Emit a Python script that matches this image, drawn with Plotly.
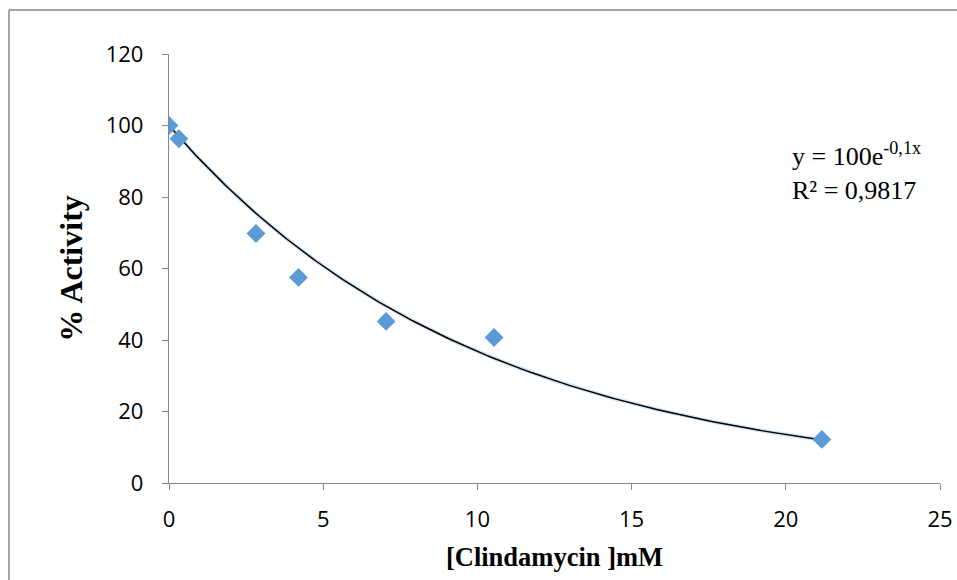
import numpy as np
import plotly.graph_objects as go

# Measured points
conc_mM = [0.0, 0.32, 2.82, 4.2, 7.04, 10.54, 21.17]
activity_pct = [100.0, 96.3, 69.8, 57.5, 45.2, 40.7, 12.2]

# Exponential trendline y = A * exp(k x)
fit_A = 100.0
fit_k = -0.1
fit_r2 = "0,9817"

x_tick_vals = [0, 5, 10, 15, 20, 25]
y_tick_vals = [0, 20, 40, 60, 80, 100, 120]

x_fit = np.linspace(min(conc_mM), max(conc_mM), 200)
y_fit = fit_A * np.exp(fit_k * x_fit)

axis_grey = "#868686"
marker_blue = "#5B9BD5"

fig = go.Figure()

# soft halo under the trendline
fig.add_trace(go.Scatter(
    x=x_fit, y=y_fit, mode="lines",
    line=dict(color="rgba(91,155,213,0.28)", width=4),
    hoverinfo="skip", showlegend=False,
))
fig.add_trace(go.Scatter(
    x=x_fit, y=y_fit, mode="lines",
    line=dict(color="#000000", width=1.5),
    showlegend=False,
))
fig.add_trace(go.Scatter(
    x=conc_mM, y=activity_pct, mode="markers",
    marker=dict(symbol="diamond", size=14.5, color=marker_blue),
    showlegend=False,
))

tick_font = dict(family="Open Sans, Noto Sans, sans-serif", size=22, color="#000000")
serif = "Liberation Serif, Times New Roman, serif"

fig.update_xaxes(
    range=[0, 25], tickmode="array", tickvals=x_tick_vals,
    showline=True, linecolor=axis_grey, linewidth=1.3,
    ticks="outside", ticklen=6, tickcolor=axis_grey, tickwidth=1.3,
    showgrid=False, zeroline=False, tickfont=tick_font,
    ticklabelstandoff=10, automargin=False,
    title=dict(text="<b>[Clindamycin ]mM</b>",
               font=dict(family=serif, size=26.5, color="#000000"), standoff=15),
)
fig.update_yaxes(
    range=[0, 120], tickmode="array", tickvals=y_tick_vals,
    showline=True, linecolor=axis_grey, linewidth=1.3,
    ticks="outside", ticklen=6, tickcolor=axis_grey, tickwidth=1.3,
    showgrid=False, zeroline=False, tickfont=tick_font,
    ticklabelstandoff=14, automargin=False,
    title=dict(text="<b>% Activity</b>",
               font=dict(family=serif, size=32, color="#000000"), standoff=13),
)

fig.add_annotation(
    x=20.15, y=97, xref="x", yref="y",
    xanchor="left", yanchor="top", align="left", showarrow=False,
    text="y = 100e<sup>-0,1x</sup><br>R² = 0,9817",
    font=dict(family=serif, size=26, color="#000000"),
)

# chart frame (left and top edges)
plot_w = 940 - 169
plot_h = 483 - 54
fx0 = (9 - 169) / plot_w
fy_top = (483 - 10) / plot_h
fy_bot = (483 - 585) / plot_h
fx1 = (960 - 169) / plot_w
fig.add_shape(type="line", xref="paper", yref="paper",
              x0=fx0, x1=fx0, y0=fy_bot, y1=fy_top,
              line=dict(color=axis_grey, width=1.5))
fig.add_shape(type="line", xref="paper", yref="paper",
              x0=fx0, x1=fx1, y0=fy_top, y1=fy_top,
              line=dict(color=axis_grey, width=1.5))

fig.update_layout(
    width=957, height=580,
    margin=dict(l=169, r=17, t=54, b=97),
    paper_bgcolor="#ffffff", plot_bgcolor="#ffffff",
)

fig.write_html("out.html")
